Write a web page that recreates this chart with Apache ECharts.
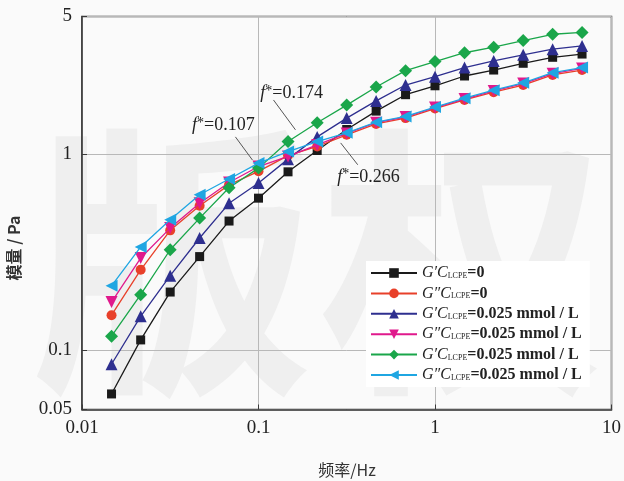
<!DOCTYPE html>
<html><head><meta charset="utf-8">
<script src="https://cdn.jsdelivr.net/npm/echarts@6/dist/echarts.min.js"></script>
<style>html,body{margin:0;padding:0;background:#fafafa;}#c{width:624px;height:481px;}</style>
</head><body><div id="c"></div>
<script>
// frequencies (Hz)
const freq = [0.0147, 0.0215, 0.0316, 0.0464, 0.0681, 0.1, 0.147, 0.215, 0.316, 0.464, 0.681, 1, 1.47, 2.15, 3.16, 4.64, 6.81];
// moduli (Pa)
const gStore0 = [0.060, 0.113, 0.198, 0.300, 0.455, 0.595, 0.81, 1.04, 1.33, 1.65, 2.00, 2.22, 2.49, 2.67, 2.89, 3.10, 3.22];
const gLoss0 = [0.151, 0.257, 0.408, 0.544, 0.695, 0.815, 0.98, 1.09, 1.25, 1.42, 1.52, 1.70, 1.88, 2.06, 2.24, 2.52, 2.67];
const gStoreA = [0.085, 0.149, 0.240, 0.373, 0.560, 0.71, 0.94, 1.22, 1.52, 1.86, 2.24, 2.47, 2.75, 2.97, 3.19, 3.41, 3.54];
const gLossA = [0.176, 0.295, 0.419, 0.561, 0.715, 0.862, 0.97, 1.11, 1.27, 1.44, 1.54, 1.72, 1.90, 2.09, 2.28, 2.56, 2.72];
const gStoreB = [0.118, 0.192, 0.325, 0.471, 0.672, 0.846, 1.155, 1.44, 1.77, 2.19, 2.65, 2.95, 3.27, 3.49, 3.77, 4.06, 4.15];
const gLossB = [0.213, 0.336, 0.462, 0.619, 0.745, 0.897, 1.027, 1.155, 1.28, 1.45, 1.55, 1.73, 1.92, 2.11, 2.30, 2.59, 2.75];
// legend labels
const legendLabels = [
  '{i|G\u2032C}{s|LCPE}{n|=0}',
  '{i|G\u2033C}{s|LCPE}{n|=0}',
  '{i|G\u2032C}{s|LCPE}{n|=0.025 mmol / L}',
  '{i|G\u2033C}{s|LCPE}{n|=0.025 mmol / L}',
  '{i|G\u2032C}{s|LCPE}{n|=0.025 mmol / L}',
  '{i|G\u2033C}{s|LCPE}{n|=0.025 mmol / L}'
];
// annotations: label, text anchor, leader start, leader end (data coords)
const annotValues = ['0.107', '0.174', '0.266'];
const annotText = [[0.0632, 1.40], [0.154, 2.04], [0.42, 0.764]];
const annotFrom = [[0.074, 1.22], [0.1216, 1.88], [0.365, 0.88]];
const annotTo = [[0.0924, 0.93], [0.162, 1.325], [0.292, 1.137]];

const serif = '"Liberation Serif","DejaVu Serif",serif';
const seriesDefs = [
  {data: gStore0, color: '#1a1a1a', symbol: 'rect', size: 9, rot: 0},
  {data: gLoss0, color: '#e8402a', symbol: 'circle', size: 10, rot: 0},
  {data: gStoreA, color: '#2e2f8f', symbol: 'triangle', size: 12, rot: 0},
  {data: gLossA, color: '#e0198c', symbol: 'triangle', size: 12, rot: 180},
  {data: gStoreB, color: '#1aa64a', symbol: 'diamond', size: 13, rot: 0},
  {data: gLossB, color: '#1fa6e2', symbol: 'triangle', size: 12, rot: 90}
];
const names = seriesDefs.map((d, i) => 's' + i);

const chart = echarts.init(document.getElementById('c'));
const option = {
  backgroundColor: '#fafafa',
  animation: false,
  graphic: [
    {type: 'text', z: -10, left: 30, top: 120, style: {text: '\u7248', fontSize: 285, fontWeight: 'bold', fontFamily: '"Noto Sans CJK SC"', fill: '#efefef'}},
    {type: 'text', z: -10, left: 320, top: 120, style: {text: '\u6743', fontSize: 285, fontWeight: 'bold', fontFamily: '"Noto Sans CJK SC"', fill: '#efefef'}}
  ],
  grid: {left: 82, right: 12, top: 16.5, bottom: 71.5, show: true, borderColor: '#3a3a3a', borderWidth: 1.5, backgroundColor: 'transparent'},
  legend: {
    orient: 'vertical', left: 366, top: 261, itemWidth: 46, itemHeight: 12, itemGap: 4.4,
    backgroundColor: '#ffffff', padding: [4, 8, 4, 4],
    data: names,
    formatter: (n) => legendLabels[names.indexOf(n)],
    textStyle: {
      color: '#222',
      rich: {
        i: {fontFamily: serif, fontStyle: 'italic', fontSize: 16, lineHeight: 14, color: '#222'},
        s: {fontFamily: serif, fontSize: 8, verticalAlign: 'bottom', lineHeight: 8, color: '#222'},
        n: {fontFamily: serif, fontSize: 16, lineHeight: 14, fontWeight: 'bold', color: '#222'}
      }
    }
  },
  xAxis: {
    type: 'log', logBase: 10, min: 0.01, max: 10,
    axisLine: {lineStyle: {color: '#3a3a3a', width: 1.5}},
    axisTick: {inside: true, length: 5, lineStyle: {color: '#3a3a3a'}},
    axisLabel: {fontFamily: serif, fontSize: 19, color: '#222', margin: 9, formatter: v => String(+Number(v).toPrecision(2))},
    splitLine: {show: true, lineStyle: {color: '#b8b8b8', width: 1}},
    minorTick: {show: false}
  },
  yAxis: {
    type: 'log', logBase: 10, min: 0.05, max: 5,
    axisLine: {show: true, lineStyle: {color: '#3a3a3a', width: 1.5}},
    axisTick: {show: true, inside: true, length: 5, lineStyle: {color: '#3a3a3a'}},
    axisLabel: {fontFamily: serif, fontSize: 19, color: '#222', margin: 10, formatter: v => String(+Number(v).toPrecision(2))},
    splitLine: {show: true, lineStyle: {color: '#b8b8b8', width: 1}}
  },
  series: seriesDefs.map((d, i) => ({
    name: names[i], type: 'line', data: freq.map((f, k) => [f, d.data[k]]),
    symbol: d.symbol, symbolSize: d.size, symbolRotate: d.rot,
    lineStyle: {color: d.color, width: 1.3}, itemStyle: {color: d.color},
    z: 2 + i
  }))
};
chart.setOption(option);

const extra = [];
for (let k = 0; k < annotValues.length; k++) {
  const p = chart.convertToPixel({gridIndex: 0}, annotText[k]);
  const a = chart.convertToPixel({gridIndex: 0}, annotFrom[k]);
  const b = chart.convertToPixel({gridIndex: 0}, annotTo[k]);
  extra.push({type: 'line', z: 20, shape: {x1: a[0], y1: a[1], x2: b[0], y2: b[1]}, style: {stroke: '#555', lineWidth: 1}});
  extra.push({type: 'text', z: 20, x: p[0], y: p[1], style: {
    text: '{f|f}{u|*}{n|=' + annotValues[k] + '}', align: 'center', verticalAlign: 'middle',
    rich: {
      f: {fontFamily: serif, fontStyle: 'italic', fontSize: 18, fill: '#222', lineHeight: 18},
      u: {fontFamily: serif, fontSize: 14, verticalAlign: 'top', fill: '#222', lineHeight: 9},
      n: {fontFamily: serif, fontSize: 18, fill: '#222', lineHeight: 18}
    }
  }});
}
extra.push({type: 'text', z: 20, x: 14, y: 248, rotation: Math.PI / 2, style: {
  text: '\u6a21\u91cf / Pa', align: 'center', verticalAlign: 'middle', fontSize: 16,
  fontFamily: '"Noto Sans CJK SC"', fontWeight: 'bold', fill: '#333'}});
extra.push({type: 'text', z: 20, x: 347, y: 470, style: {
  text: '\u9891\u7387/Hz', align: 'center', verticalAlign: 'middle', fontSize: 16,
  fontFamily: '"Noto Sans CJK SC"', fill: '#333'}});
chart.setOption({graphic: option.graphic.concat(extra)});
</script>
</body></html>
